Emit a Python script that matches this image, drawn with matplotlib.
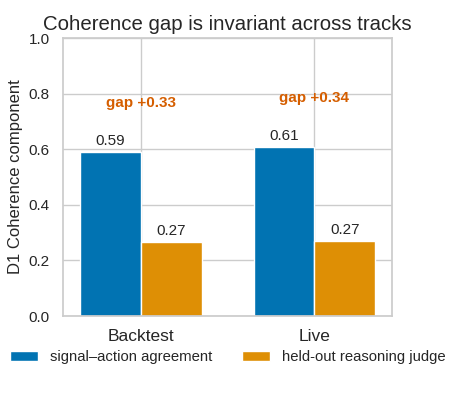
import numpy as np
import matplotlib
matplotlib.use("Agg")
import matplotlib.pyplot as plt
import seaborn as sns

sns.set_theme(style="whitegrid", palette="colorblind")
plt.rcParams['font.family'] = ['Liberation Sans', 'DejaVu Sans']

tracks = ["Backtest", "Live"]
signal_action = [0.591, 0.609]
reasoning_judge = [0.265, 0.270]
series_names = ["signal\u2013action agreement", "held-out reasoning judge"]

colors = sns.color_palette("colorblind")
x = np.arange(len(tracks))
w = 0.35

fig, ax = plt.subplots(figsize=(4.66, 4.0), dpi=100)
b1 = ax.bar(x - w / 2, signal_action, w, color=colors[0], edgecolor="white",
            label=series_names[0], zorder=2)
b2 = ax.bar(x + w / 2, reasoning_judge, w, color=colors[1], edgecolor="white",
            label=series_names[1], zorder=2)
ax.bar_label(b1, fmt="%.2f", padding=3, fontsize=11, color="#262626")
ax.bar_label(b2, fmt="%.2f", padding=3, fontsize=11, color="#262626")

for i in range(len(tracks)):
    gap = signal_action[i] - reasoning_judge[i]
    ax.text(x[i], signal_action[i] + 0.175, f"gap +{gap:.2f}", ha="center",
            va="center", color="#d55e00", fontweight="bold", fontsize=11)

ax.set_xticks(x)
ax.set_xticklabels(tracks, fontsize=12.5)
ax.set_xlim(-0.45, 1.45)
ax.set_ylim(0, 1.0)
ax.tick_params(axis="y", labelsize=11)
ax.set_ylabel("D1 Coherence component", fontsize=12)
ax.set_title("Coherence gap is invariant across tracks", fontsize=14.7)
ax.legend(loc="upper center", bbox_to_anchor=(0.5, -0.075), ncol=2, frameon=False,
          fontsize=10.7, handlelength=1.9, handletextpad=0.8, columnspacing=2.0)

fig.subplots_adjust(left=0.135, right=0.842, top=0.905, bottom=0.21)
fig.savefig("out.png", dpi=100)
